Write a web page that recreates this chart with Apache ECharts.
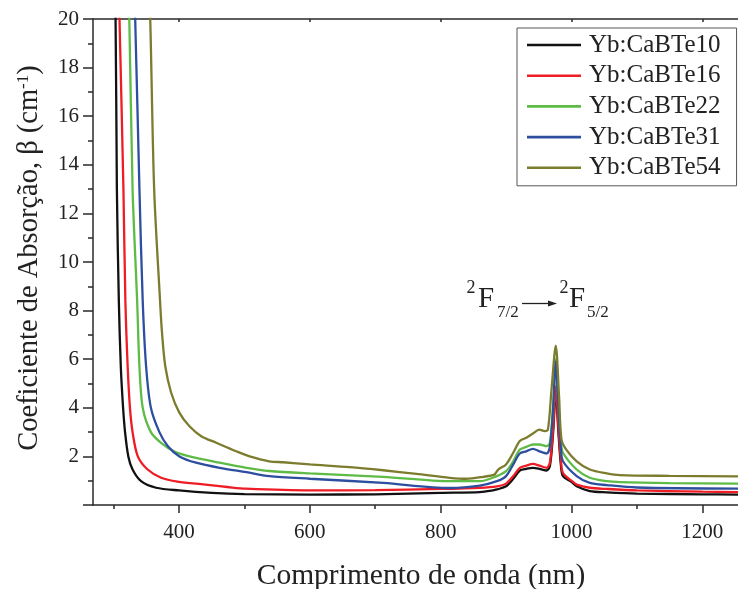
<!DOCTYPE html>
<html>
<head>
<meta charset="utf-8">
<script src="https://cdn.jsdelivr.net/npm/echarts@6/dist/echarts.min.js"></script>
<style>
  html, body { margin: 0; padding: 0; background: #fff; }
  #chart { width: 738px; height: 589px; }
</style>
</head>
<body>
<div id="chart"></div>
<script>
// Absorption coefficient spectra of Yb-doped CaBTe glasses
const sampleNames = ['Yb:CaBTe10', 'Yb:CaBTe16', 'Yb:CaBTe22', 'Yb:CaBTe31', 'Yb:CaBTe54'];

const wl10 = [296, 303, 305, 308, 311, 314.5, 317.5, 322.5, 329, 342, 365, 400, 450, 500, 600, 700, 800, 860, 880, 886, 900, 911, 921, 931, 941, 951, 962, 967, 972, 976, 980, 984, 987, 1000, 1008, 1028, 1054, 1100, 1200, 1255];
const beta10 = [30, 20, 13, 8.4, 5.7, 4.0, 3.0, 2.0, 1.46, 0.98, 0.71, 0.6, 0.5, 0.45, 0.43, 0.44, 0.5, 0.53, 0.6, 0.64, 0.77, 1.08, 1.42, 1.49, 1.53, 1.49, 1.42, 1.6, 3.0, 4.7, 3.0, 1.6, 1.19, 0.95, 0.77, 0.57, 0.52, 0.47, 0.44, 0.43];

const wl16 = [300, 309, 315, 318, 321.5, 325, 329, 337, 352, 372.7, 397.6, 440, 477, 502, 600, 700, 800, 860, 886, 900, 911, 921, 931, 941, 951, 962, 967, 972, 976, 980, 984, 987, 1000, 1008, 1028, 1054, 1100, 1200, 1255];
const beta16 = [30, 20, 13, 8.4, 5.7, 4.0, 3.0, 2.0, 1.46, 1.12, 0.96, 0.84, 0.73, 0.67, 0.6, 0.61, 0.66, 0.71, 0.77, 0.88, 1.19, 1.53, 1.62, 1.69, 1.62, 1.53, 1.74, 3.2, 4.88, 3.2, 1.8, 1.32, 1.0, 0.84, 0.71, 0.66, 0.6, 0.55, 0.53];

const wl22 = [314, 324, 329, 336, 339.5, 344.5, 357, 372.6, 393, 416, 462, 503, 538, 600, 712, 814, 860, 886, 900, 911, 921, 931, 941, 951, 962, 967, 972, 976, 980, 984, 987, 1008, 1028, 1054, 1074, 1150, 1255];
const beta22 = [30, 20, 13, 8.4, 5.7, 4.0, 3.0, 2.56, 2.2, 2.0, 1.74, 1.53, 1.4, 1.3, 1.16, 0.98, 0.98, 1.19, 1.39, 1.8, 2.28, 2.39, 2.49, 2.49, 2.42, 2.56, 4.1, 6.0, 4.1, 2.6, 2.15, 1.46, 1.12, 0.98, 0.94, 0.9, 0.88];

const wl31 = [322, 333, 339.5, 344.5, 349.7, 357, 370, 383, 400.7, 426, 462, 503, 538, 600, 712, 814, 860, 886, 900, 911, 921, 931, 941, 951, 962, 967, 972, 976, 980, 984, 987, 1008, 1028, 1054, 1100, 1255];
const beta31 = [30, 20, 13, 8.4, 5.7, 4.0, 3.0, 2.42, 2.0, 1.74, 1.53, 1.35, 1.19, 1.08, 0.91, 0.7, 0.8, 0.98, 1.19, 1.67, 2.12, 2.21, 2.31, 2.21, 2.12, 2.4, 4.0, 5.9, 4.0, 2.3, 1.8, 1.19, 0.91, 0.82, 0.72, 0.67];

const wl54 = [345, 356, 362, 371, 374, 379, 388, 400.7, 416, 434, 457, 487.5, 508, 538, 559, 600, 661, 712, 763, 814, 839, 865, 882, 888, 900, 911, 921, 931, 941, 951, 959, 964, 969.5, 976, 981, 984.7, 992, 1008, 1028, 1054, 1074, 1150, 1255];
const beta54 = [30, 20, 13, 8.4, 7.09, 5.71, 4.62, 3.79, 3.24, 2.83, 2.56, 2.21, 2.0, 1.8, 1.76, 1.67, 1.56, 1.43, 1.28, 1.12, 1.08, 1.16, 1.25, 1.46, 1.67, 2.15, 2.63, 2.77, 2.94, 3.1, 3.04, 3.1, 4.75, 6.56, 4.48, 2.7, 2.28, 1.8, 1.46, 1.3, 1.23, 1.2, 1.18];

const xMajorTicks = [400, 600, 800, 1000, 1200];
const xMinorTicks = [300, 500, 700, 900, 1100];
const xRange = [268.5, 1254.6];
const yRange = [0, 20];

const lineColors = ['#111111', '#ee1c24', '#5dbb46', '#2e4f9f', '#7c7c2e'];
const FONT = 'Liberation Serif';

function toPairs(x, y) { return x.map((v, i) => [v, y[i]]); }
const spectra = [[wl10, beta10], [wl16, beta16], [wl22, beta22], [wl31, beta31], [wl54, beta54]];

const chart = echarts.init(document.getElementById('chart'), null, { renderer: 'canvas' });

const axisLineStyle = { color: '#2a2a2a', width: 1.5 };

chart.setOption({
  animation: false,
  backgroundColor: '#ffffff',
  grid: { left: 93, top: 19, right: 0, bottom: 84, containLabel: false },
  xAxis: [
    {
      type: 'value', position: 'bottom', min: xRange[0], max: xRange[1],
      axisLine: { show: true, onZero: false, lineStyle: axisLineStyle },
      axisTick: { show: true, inside: false, length: 8, customValues: xMajorTicks, lineStyle: axisLineStyle },
      axisLabel: {
        show: true, customValues: xMajorTicks, fontFamily: FONT, fontSize: 21, color: '#222', margin: 17,
        formatter: v => String(v)
      },
      splitLine: { show: false }
    },
    {
      type: 'value', position: 'bottom', min: xRange[0], max: xRange[1],
      axisLine: { show: false, onZero: false },
      axisTick: { show: true, inside: false, length: 4, customValues: xMinorTicks, lineStyle: axisLineStyle },
      axisLabel: { show: false },
      splitLine: { show: false }
    },
    {
      type: 'value', position: 'top', min: xRange[0], max: xRange[1],
      axisLine: { show: true, onZero: false, lineStyle: axisLineStyle },
      axisTick: { show: true, inside: true, length: 3, customValues: xMajorTicks, lineStyle: axisLineStyle },
      axisLabel: { show: false },
      splitLine: { show: false }
    }
  ],
  yAxis: {
    type: 'value', min: yRange[0], max: yRange[1], interval: 2,
    axisLine: { show: true, lineStyle: axisLineStyle },
    axisTick: { show: true, inside: false, length: 10, lineStyle: axisLineStyle },
    minorTick: { show: true, splitNumber: 2, length: 5, lineStyle: axisLineStyle },
    axisLabel: {
      fontFamily: FONT, fontSize: 21, color: '#222', margin: 14,
      formatter: v => (v === 0 ? '' : String(v))
    },
    splitLine: { show: false }
  },
  legend: {
    orient: 'vertical', left: 517, top: 28,
    padding: [4.5, 16, 5.5, 10],
    icon: 'rect',
    itemWidth: 54, itemHeight: 2.6, itemGap: 5.7,
    borderColor: '#555', borderWidth: 1, backgroundColor: '#fff',
    textStyle: { fontFamily: FONT, fontSize: 25, color: '#222', lineHeight: 25, padding: [0, 0, 0, 3] },
    data: sampleNames
  },
  series: spectra.map((s, i) => ({
    name: sampleNames[i],
    type: 'line',
    xAxisIndex: 0,
    data: toPairs(s[0], s[1]),
    symbol: 'none',
    smooth: 0.3,
    clip: true,
    lineStyle: { color: lineColors[i], width: 2.3 },
    itemStyle: { color: lineColors[i] },
    z: 2 + i
  })),
  graphic: [
    {
      type: 'text', x: 421, y: 576,
      style: { text: 'Comprimento de onda (nm)', font: '29.5px "Liberation Serif"', fill: '#222', align: 'center', verticalAlign: 'middle' }
    },
    {
      type: 'text', x: 30, y: 258, rotation: Math.PI / 2,
      style: {
        text: 'Coeficiente de Absorção, β (cm{sup|-1})',
        font: '28.5px "Liberation Serif"', fill: '#222', align: 'center', verticalAlign: 'middle',
        rich: { sup: { fontFamily: FONT, fontSize: 17, fill: '#222', padding: [0, 0, 13, 0] } }
      }
    },
    // transition label: 2F7/2 -> 2F5/2
    { type: 'text', x: 471, y: 288, style: { text: '2', font: '18px "Liberation Serif"', fill: '#222', align: 'center', verticalAlign: 'middle' } },
    { type: 'text', x: 478, y: 299, style: { text: 'F', font: '29px "Liberation Serif"', fill: '#222', align: 'left', verticalAlign: 'middle' } },
    { type: 'text', x: 497, y: 313, style: { text: '7/2', font: '17px "Liberation Serif"', fill: '#222', align: 'left', verticalAlign: 'middle' } },
    { type: 'line', shape: { x1: 522, y1: 303.5, x2: 549, y2: 303.5 }, style: { stroke: '#222', lineWidth: 1.3 } },
    { type: 'polygon', shape: { points: [[548, 300.5], [557, 303.5], [548, 306.5]] }, style: { fill: '#222' } },
    { type: 'text', x: 564, y: 288, style: { text: '2', font: '18px "Liberation Serif"', fill: '#222', align: 'center', verticalAlign: 'middle' } },
    { type: 'text', x: 569, y: 299, style: { text: 'F', font: '29px "Liberation Serif"', fill: '#222', align: 'left', verticalAlign: 'middle' } },
    { type: 'text', x: 587, y: 313, style: { text: '5/2', font: '17px "Liberation Serif"', fill: '#222', align: 'left', verticalAlign: 'middle' } }
  ]
});
</script>
</body>
</html>
